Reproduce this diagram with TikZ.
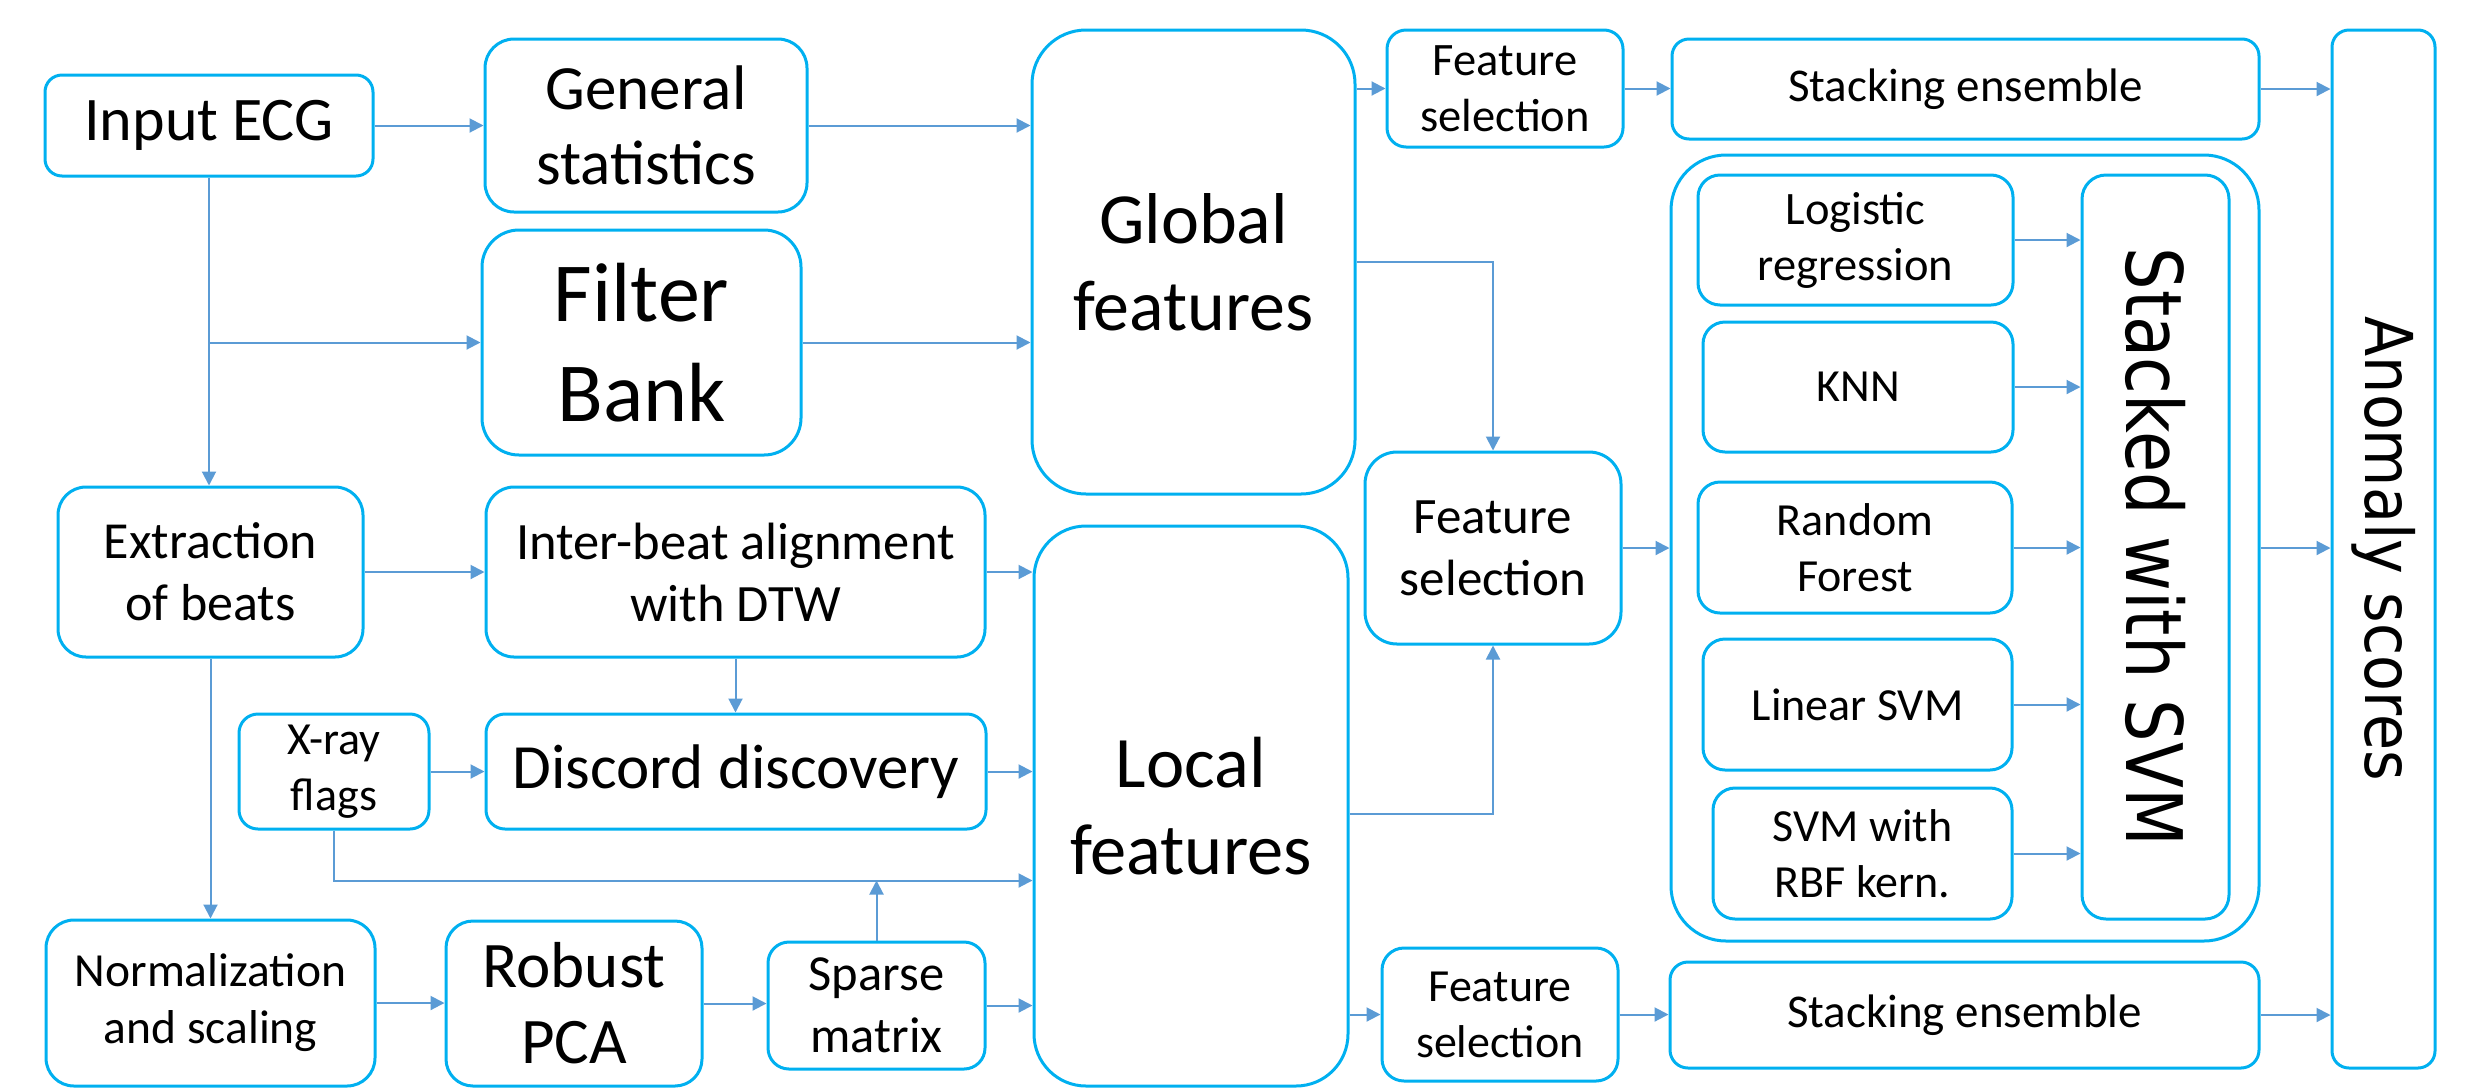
\documentclass[tikz,border=0pt]{standalone}
\usepackage{fontspec}
\setmainfont{Carlito}
\newfontfamily\dejavu{DejaVu Sans}
\usetikzlibrary{arrows.meta,calc}
\definecolor{boxc}{HTML}{00B0F0}
\definecolor{arrc}{HTML}{5B9BD5}
\tikzset{
  box/.style={draw=boxc, line width=3pt, align=center, inner sep=2pt, text=black},
  arr/.style={draw=arrc, line width=2pt, -{Triangle[length=14pt,width=14pt]}},
}
\begin{document}
\begin{tikzpicture}[x=1pt,y=-1pt]
\useasboundingbox (0,0) rectangle (2468,1088);
% left column
\node[box, minimum width=328pt, minimum height=101pt, rounded corners=17pt, font=\fontsize{62}{75}\selectfont] (inecg) at (209,125.5) {Input ECG};
\node[box, minimum width=322pt, minimum height=173pt, rounded corners=29pt, font=\fontsize{63}{75}\selectfont] (genstat) at (646,125.5) {General\\statistics};
\node[box, minimum width=319pt, minimum height=225pt, rounded corners=37pt, font=\fontsize{84}{100}\selectfont] (filter) at (641.5,342.5) {Filter\\Bank};
\node[box, minimum width=323pt, minimum height=464pt, rounded corners=54pt, font=\fontsize{72}{87}\selectfont] (glob) at (1193.5,262) {Global\\features};
\node[box, minimum width=305pt, minimum height=170pt, rounded corners=28pt, font=\fontsize{52}{62}\selectfont] (extr) at (210.5,572) {Extraction\\of beats};
\node[box, minimum width=499pt, minimum height=170pt, rounded corners=28pt, font=\fontsize{52.5}{62}\selectfont] (ibeat) at (735.5,572) {Inter-beat alignment\\with DTW};
\node[box, minimum width=190pt, minimum height=115pt, rounded corners=19pt, font=\fontsize{46}{56}\selectfont] (xray) at (334,771.5) {X-ray\\flags};
\node[box, minimum width=500pt, minimum height=115pt, rounded corners=19pt, font=\fontsize{63}{75}\selectfont] (disc) at (736,771.5) {Discord discovery};
\node[box, minimum width=329pt, minimum height=166pt, rounded corners=28pt, font=\fontsize{47.5}{57}\selectfont] (norm) at (210.5,1003) {Normalization\\and scaling};
\node[box, minimum width=256pt, minimum height=165pt, rounded corners=27pt, font=\fontsize{65}{76}\selectfont] (rpca) at (574,1003.5) {Robust\\PCA};
\node[box, minimum width=217pt, minimum height=127pt, rounded corners=21pt, font=\fontsize{50.5}{62}\selectfont] (sparse) at (876.5,1005.5) {Sparse\\matrix};
\node[box, minimum width=314pt, minimum height=560pt, rounded corners=52pt, font=\fontsize{72.5}{87}\selectfont] (local) at (1191,806) {Local\\features};
% feature selection
\node[box, minimum width=236pt, minimum height=117pt, rounded corners=19pt, font=\fontsize{46.5}{56}\selectfont] (fstop) at (1505,88.5) {Feature\\selection};
\node[box, minimum width=256pt, minimum height=192pt, rounded corners=32pt, font=\fontsize{51}{62}\selectfont] (fsmid) at (1493,548) {Feature\\selection};
\node[box, minimum width=236pt, minimum height=133pt, rounded corners=22pt, font=\fontsize{46}{56}\selectfont] (fsbot) at (1500,1014.5) {Feature\\selection};
% right part
\node[box, minimum width=587pt, minimum height=100pt, rounded corners=17pt, font=\fontsize{47}{57}\selectfont] (stacktop) at (1965.5,89) {Stacking ensemble};
\node[box, minimum width=589pt, minimum height=106pt, rounded corners=18pt, font=\fontsize{47}{57}\selectfont] (stackbot) at (1964.5,1015) {Stacking ensemble};
\node[box, minimum width=588pt, minimum height=786pt, rounded corners=55pt] (outer) at (1965,548) {};
\node[box, minimum width=315pt, minimum height=130pt, rounded corners=22pt, font=\fontsize{46.5}{56}\selectfont] (logit) at (1855.5,240) {Logistic\\regression};
\node[box, minimum width=310pt, minimum height=130pt, rounded corners=22pt, font=\fontsize{46}{56}\selectfont] (knn) at (1858,387) {KNN};
\node[box, minimum width=314pt, minimum height=131pt, rounded corners=22pt, font=\fontsize{46}{56}\selectfont] (rf) at (1855,547.5) {Random\\Forest};
\node[box, minimum width=309pt, minimum height=131pt, rounded corners=22pt, font=\fontsize{46}{56}\selectfont] (lsvm) at (1857.5,704.5) {Linear SVM};
\node[box, minimum width=299pt, minimum height=131pt, rounded corners=22pt, font=\fontsize{46}{56}\selectfont] (rbf) at (1862.5,853.5) {SVM with\\RBF kern.};
\node[box, minimum width=147pt, minimum height=744pt, rounded corners=24pt] (ssvm) at (2155.5,547) {};
\node[rotate=-90, inner sep=0pt, font=\dejavu\fontsize{78}{90}\selectfont] (ssvmtext) at (ssvm.center) {\scalebox{0.86}[1]{Stacked with SVM}};
\node[box, minimum width=103pt, minimum height=1038pt, rounded corners=17pt] (anom) at (2383.5,549) {};
\node[rotate=-90, inner sep=0pt, font=\dejavu\fontsize{66}{78}\selectfont] (anomtext) at (anom.center) {\scalebox{0.89}[1]{Anomaly scores}};
% connectors
\draw[arr] (inecg.east) -- (genstat.west);
\draw[arr] (inecg.south) -- (inecg.south |- extr.north);
\coordinate (fb) at (inecg.south |- filter.west);
\draw[arr] (fb) -- (filter.west);
\draw[arr] (genstat.east) -- (genstat.east -| glob.west);
\draw[arr] (filter.east) -- (filter.east -| glob.west);
\draw[arr] (glob.east |- fstop.west) -- (fstop.west);
\draw[arr] (fstop.east) -- (fstop.east -| stacktop.west);
\draw[arr] (glob.east) -| (fsmid.north);
\draw[arr] ([yshift=-8pt]local.east) -| (fsmid.south);
\draw[arr] (fsmid.east) -- (fsmid.east -| outer.west);
\draw[arr] (local.east |- fsbot.west) -- (fsbot.west);
\draw[arr] (fsbot.east) -- (fsbot.east -| stackbot.west);
\draw[arr] (stacktop.east) -- (stacktop.east -| anom.west);
\draw[arr] (outer.east) -- (outer.east -| anom.west);
\draw[arr] (stackbot.east) -- (stackbot.east -| anom.west);
\foreach \m in {logit,knn,rf,lsvm,rbf} \draw[arr] (\m.east) -- (\m.east -| ssvm.west);
\draw[arr] (extr.east) -- (ibeat.west);
\draw[arr] (ibeat.east) -- (ibeat.east -| local.west);
\draw[arr] (ibeat.south) -- (ibeat.south |- disc.north);
\draw[arr] (extr.south) -- (extr.south |- norm.north);
\draw[arr] (xray.east) -- (disc.west);
\draw[arr] (disc.east) -- (disc.east -| local.west);
\path (xray.south) ++(0,50) coordinate (xl);
\draw[arr] (xray.south) |- (xl -| local.west);
\draw[arr] (sparse.north) -- (sparse.north |- xl);
\draw[arr] (norm.east) -- (norm.east -| rpca.west);
\draw[arr] (rpca.east) -- (rpca.east -| sparse.west);
\draw[arr] (sparse.east) -- (sparse.east -| local.west);
\end{tikzpicture}
\end{document}
